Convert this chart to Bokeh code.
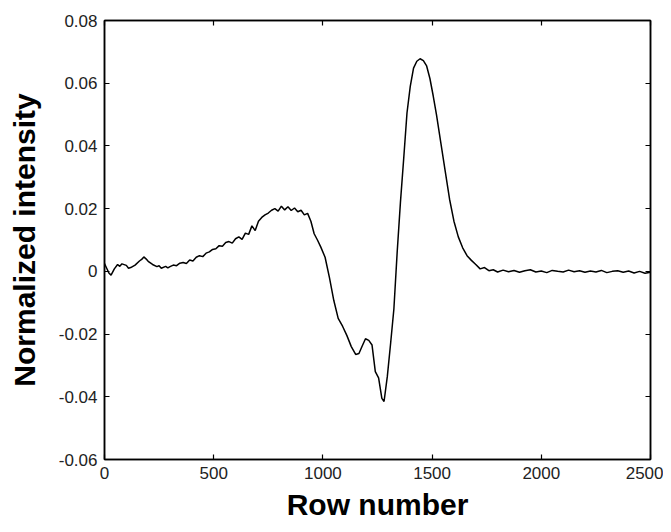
from bokeh.plotting import figure
from bokeh.models import Range1d, FixedTicker, LinearAxis
from bokeh.embed import file_html
from bokeh.resources import INLINE

# Row number positions and normalized intensity values
row = [0, 10, 20, 30, 45, 60, 70, 80, 100, 110, 120, 140, 160, 170, 180, 190, 200,
       220, 240, 250, 260, 280, 290, 300, 315, 330, 345, 360, 375, 390, 405, 420,
       435, 450, 465, 480, 495, 510, 525, 540, 555, 570, 585, 600, 615, 630, 645,
       660, 675, 690, 705, 720, 735, 750, 765, 780, 795, 810, 825, 840, 855, 870,
       885, 900, 915, 930, 945, 960, 975, 990, 1010, 1030, 1050, 1070, 1090, 1110,
       1130, 1150, 1165, 1180, 1195, 1210, 1225, 1240, 1255, 1270, 1280, 1295, 1310,
       1325, 1340, 1355, 1370, 1385, 1400, 1415, 1430, 1445, 1460, 1475, 1490, 1505,
       1520, 1540, 1560, 1580, 1600, 1620, 1640, 1660, 1680, 1700, 1720, 1740, 1760,
       1780, 1800, 1825, 1850, 1875, 1900, 1925, 1950, 1975, 2000, 2025, 2050, 2075,
       2100, 2125, 2150, 2175, 2200, 2225, 2250, 2275, 2300, 2325, 2350, 2375, 2400,
       2425, 2450, 2475, 2500]
intensity = [0.0025, 0.0010, -0.0005, -0.0012, 0.0008, 0.0022, 0.0016, 0.0024, 0.0019,
             0.0010, 0.0012, 0.0020, 0.0033, 0.0038, 0.0046, 0.0040, 0.0032,
             0.0022, 0.0015, 0.0018, 0.0010, 0.0016, 0.0011, 0.0015, 0.0020, 0.0018,
             0.0026, 0.0028, 0.0025, 0.0036, 0.0033, 0.0045,
             0.0050, 0.0047, 0.0058, 0.0062, 0.0070, 0.0072, 0.0082, 0.0080, 0.0092,
             0.0095, 0.0090, 0.0104, 0.0110, 0.0102, 0.0122,
             0.0118, 0.0145, 0.0130, 0.0160, 0.0172, 0.0180, 0.0186, 0.0195, 0.0200,
             0.0192, 0.0208, 0.0196, 0.0206, 0.0194, 0.0202,
             0.0190, 0.0195, 0.0180, 0.0185, 0.0160, 0.0120, 0.0100, 0.0078, 0.0045,
             -0.0020, -0.0093, -0.0150, -0.0175, -0.0205,
             -0.0240, -0.0265, -0.0262, -0.0238, -0.0215, -0.0220, -0.0235, -0.0320,
             -0.0340, -0.0405, -0.0415, -0.0335, -0.0230,
             -0.0120, 0.0060, 0.0220, 0.0360, 0.0505, 0.0590, 0.0648, 0.0670, 0.0678,
             0.0672, 0.0655, 0.0615, 0.0560,
             0.0500, 0.0410, 0.0320, 0.0230, 0.0160, 0.0110, 0.0075, 0.0050, 0.0035,
             0.0022, 0.0008, 0.0012, 0.0002,
             0.0005, -0.0002, 0.0004, -0.0001, 0.0003, -0.0003, 0.0002, 0.0005, -0.0002,
             0.0001, -0.0004, 0.0003, 0.0000, -0.0002,
             0.0004, -0.0001, 0.0002, -0.0003, 0.0001, -0.0002, 0.0003, -0.0004, 0.0000,
             0.0002, -0.0003, 0.0001, -0.0005,
             0.0000, -0.0006, -0.0003, -0.0010]

x_ticks = [0, 500, 1000, 1500, 2000, 2500]
x_tick_labels = ["0", "500", "1000", "1500", "2000", "2500"]
y_ticks = [-0.06, -0.04, -0.02, 0.0, 0.02, 0.04, 0.06, 0.08]
y_tick_labels = ["-0.06", "-0.04", "-0.02", "0", "0.02", "0.04", "0.06", "0.08"]

FONT = "Liberation Sans"

p = figure(width=663, height=524, output_backend="svg", toolbar_location=None,
           x_range=Range1d(0, 2500), y_range=Range1d(-0.06, 0.08),
           min_border_left=104, min_border_right=13, min_border_top=20,
           min_border_bottom=65)
p.background_fill_color = "white"
p.border_fill_color = "white"
p.outline_line_color = "black"
p.outline_line_width = 1.5
p.xgrid.visible = False
p.ygrid.visible = False

p.line(row, intensity, line_color="black", line_width=1.5)

def style(ax, ticks, labels, show_labels=True):
    ax.ticker = FixedTicker(ticks=ticks)
    ax.major_label_overrides = {t: l for t, l in zip(ticks, labels)}
    ax.minor_tick_line_color = None
    ax.major_tick_in = 5
    ax.major_tick_out = 0
    ax.major_tick_line_color = "black"
    ax.major_tick_line_width = 1.2
    ax.axis_line_color = "black"
    ax.axis_line_width = 1.5
    ax.major_label_text_font = FONT
    ax.major_label_text_color = "#222222"
    if show_labels:
        ax.major_label_text_font_size = "17px"
    else:
        ax.major_label_text_font_size = "0px"
        ax.major_label_standoff = 0

xa = p.xaxis[0]
style(xa, x_ticks, x_tick_labels)
xa.major_label_standoff = 7
xa.axis_label = "Row number"
xa.axis_label_text_font = FONT
xa.axis_label_text_font_style = "bold"
xa.axis_label_text_font_size = "30px"
xa.axis_label_text_color = "black"
xa.axis_label_standoff = 6

ya = p.yaxis[0]
style(ya, y_ticks, y_tick_labels)
ya.major_label_standoff = 7
ya.axis_label = "Normalized intensity"
ya.axis_label_text_font = FONT
ya.axis_label_text_font_style = "bold"
ya.axis_label_text_font_size = "30px"
ya.axis_label_text_color = "black"
ya.axis_label_standoff = 15

top = LinearAxis()
style(top, x_ticks, ["" for _ in x_ticks], show_labels=False)
p.add_layout(top, "above")
right = LinearAxis()
style(right, y_ticks, ["" for _ in y_ticks], show_labels=False)
p.add_layout(right, "right")

open("out.html", "w").write(file_html(p, INLINE))
